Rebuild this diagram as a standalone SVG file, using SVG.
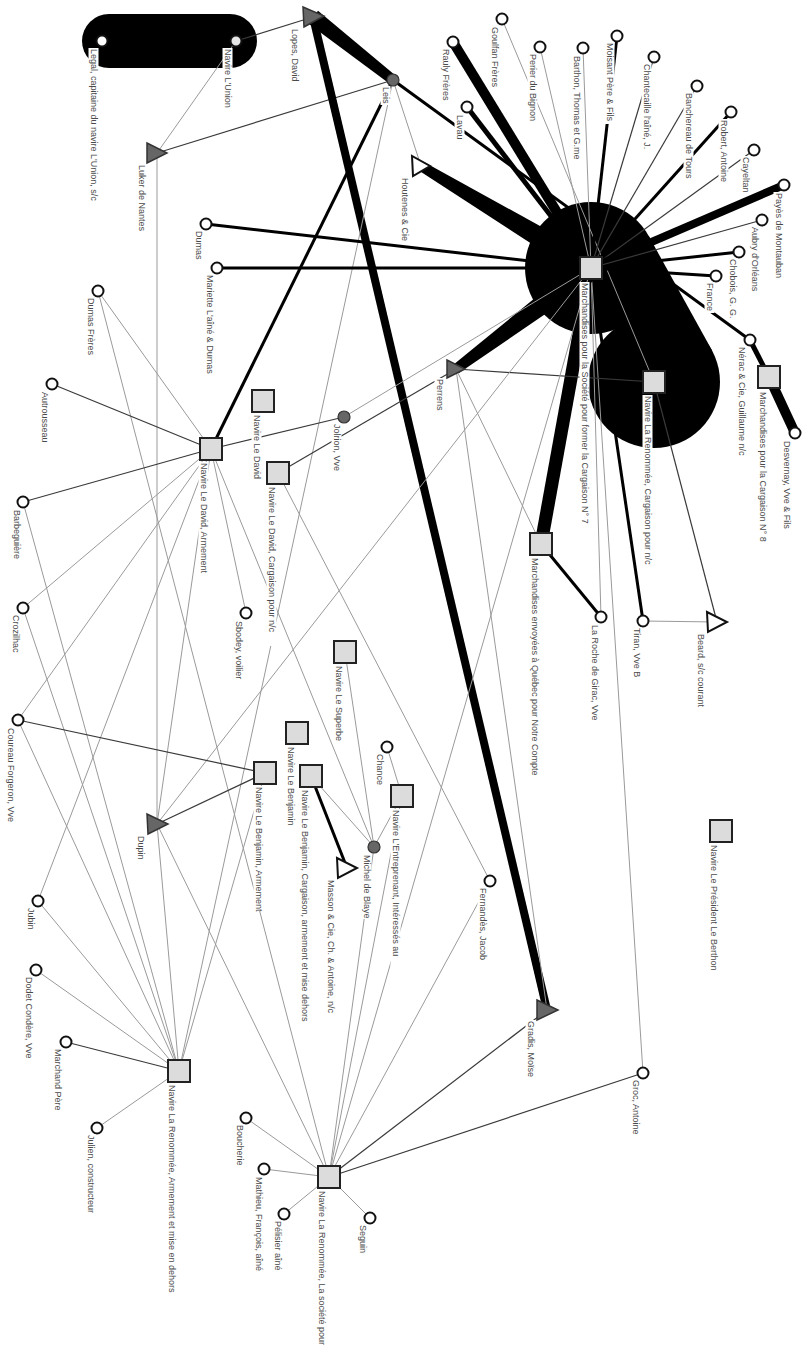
<svg xmlns="http://www.w3.org/2000/svg" width="804" height="1351" viewBox="0 0 804 1351">
<style>
.g1{stroke:#9a9a9a;stroke-width:1;fill:none}
.d1{stroke:#3a3a3a;stroke-width:1.2;fill:none}
.b3{stroke:#000;stroke-width:3;fill:none}
.b5{stroke:#000;stroke-width:5;fill:none}
.b8{stroke:#000;stroke-width:8;fill:none}
.b10{stroke:#000;stroke-width:10;fill:none}
.b13{stroke:#000;stroke-width:13;fill:none}
.blk{fill:#000}
.c{fill:#fff;stroke:#111;stroke-width:2}
.cs{fill:#e6e6e6;stroke:#111;stroke-width:2}
.cd{fill:#666;stroke:#333;stroke-width:1.2}
.sq{fill:#dcdcdc;stroke:#222;stroke-width:2}
.td{fill:#666;stroke:#333;stroke-width:1.5}
.tw{fill:#fff;stroke:#111;stroke-width:2}
.lb{fill:#fff}
.lt{font-family:"Liberation Sans",Arial,sans-serif;font-size:9px;fill:#4a4a4a}
</style>
<rect width="804" height="1351" fill="#fff"/>
<g id="connectors">
<rect class="blk" x="82" y="14" width="175" height="54" rx="27"/>
<circle class="blk" cx="591" cy="268" r="66"/>
<circle class="blk" cx="654" cy="382" r="66"/>
<polygon class="blk" points="591,268 648.8,236.1 711.8,350.1 654,382"/>
<line class="d1" x1="236" y1="41" x2="313" y2="17"/>
<line class="g1" x1="236" y1="41" x2="157" y2="153"/>
<line class="d1" x1="157" y1="153" x2="393" y2="80"/>
<line class="g1" x1="157" y1="153" x2="157" y2="824"/>
<polygon class="blk" points="318,10.7 396.1,76.1 389.9,83.9 308,23.3"/>
<line class="b8" x1="313" y1="17" x2="547" y2="1010"/>
<line class="g1" x1="393" y1="80" x2="421" y2="166"/>
<line class="b3" x1="393" y1="80" x2="211" y2="449"/>
<line class="g1" x1="393" y1="80" x2="179" y2="1071"/>
<line class="b3" x1="393" y1="80" x2="750" y2="340"/>
<line class="b10" x1="453" y1="42" x2="591" y2="268"/>
<line class="g1" x1="502" y1="19" x2="654" y2="382"/>
<line class="b5" x1="467" y1="107" x2="591" y2="268"/>
<polygon class="blk" points="423.6,161.7 597.2,257.7 584.8,278.3 418.4,170.3"/>
<line class="g1" x1="540" y1="47" x2="591" y2="268"/>
<line class="g1" x1="583" y1="48" x2="591" y2="268"/>
<line class="b3" x1="617" y1="36" x2="591" y2="268"/>
<line class="d1" x1="654" y1="57" x2="591" y2="268"/>
<line class="d1" x1="697" y1="86" x2="591" y2="268"/>
<line class="b3" x1="731" y1="112" x2="591" y2="268"/>
<line class="d1" x1="754" y1="150" x2="591" y2="268"/>
<line class="b8" x1="784" y1="185" x2="591" y2="268"/>
<line class="d1" x1="762" y1="220" x2="591" y2="268"/>
<line class="b3" x1="739" y1="252" x2="591" y2="268"/>
<line class="b3" x1="716" y1="276" x2="591" y2="268"/>
<line class="b5" x1="750" y1="340" x2="769" y2="377"/>
<line class="b10" x1="769" y1="377" x2="795" y2="433"/>
<line class="b13" x1="591" y1="268" x2="541" y2="544"/>
<line class="b3" x1="541" y1="544" x2="601" y2="617"/>
<line class="b3" x1="643" y1="621" x2="591" y2="268"/>
<line class="g1" x1="643" y1="621" x2="717" y2="622"/>
<line class="d1" x1="717" y1="622" x2="654" y2="382"/>
<line class="g1" x1="591" y1="268" x2="601" y2="617"/>
<line class="g1" x1="591" y1="268" x2="643" y2="1073"/>
<line class="d1" x1="643" y1="1073" x2="329" y2="1177"/>
<line class="d1" x1="547" y1="1010" x2="329" y2="1177"/>
<polygon class="blk" points="453,365 584,258 598,278 459,373"/>
<line class="d1" x1="456" y1="369" x2="654" y2="382"/>
<line class="d1" x1="456" y1="369" x2="278" y2="473"/>
<line class="g1" x1="456" y1="369" x2="547" y2="1010"/>
<line class="g1" x1="456" y1="369" x2="541" y2="544"/>
<line class="g1" x1="344" y1="417" x2="591" y2="268"/>
<line class="d1" x1="344" y1="417" x2="211" y2="449"/>
<line class="b3" x1="206" y1="224" x2="591" y2="268"/>
<line class="b3" x1="217" y1="268" x2="591" y2="268"/>
<line class="g1" x1="591" y1="268" x2="157" y2="824"/>
<line class="g1" x1="591" y1="268" x2="329" y2="1177"/>
<line class="g1" x1="211" y1="449" x2="98" y2="291"/>
<line class="g1" x1="98" y1="291" x2="329" y2="1177"/>
<line class="d1" x1="211" y1="449" x2="52" y2="384"/>
<line class="d1" x1="211" y1="449" x2="23" y2="502"/>
<line class="g1" x1="23" y1="502" x2="179" y2="1071"/>
<line class="g1" x1="211" y1="449" x2="23" y2="608"/>
<line class="g1" x1="23" y1="608" x2="179" y2="1071"/>
<line class="g1" x1="211" y1="449" x2="246" y2="613"/>
<line class="g1" x1="211" y1="449" x2="18" y2="720"/>
<line class="g1" x1="211" y1="449" x2="38" y2="901"/>
<line class="g1" x1="211" y1="449" x2="157" y2="824"/>
<line class="g1" x1="211" y1="449" x2="374" y2="847"/>
<line class="d1" x1="18" y1="720" x2="265" y2="773"/>
<line class="g1" x1="18" y1="720" x2="179" y2="1071"/>
<line class="d1" x1="265" y1="773" x2="157" y2="824"/>
<line class="g1" x1="157" y1="824" x2="179" y2="1071"/>
<line class="g1" x1="157" y1="824" x2="329" y2="1177"/>
<line class="g1" x1="38" y1="901" x2="179" y2="1071"/>
<line class="g1" x1="36" y1="970" x2="179" y2="1071"/>
<line class="d1" x1="66" y1="1042" x2="179" y2="1071"/>
<line class="g1" x1="97" y1="1128" x2="179" y2="1071"/>
<line class="g1" x1="265" y1="773" x2="179" y2="1071"/>
<line class="g1" x1="329" y1="1177" x2="370" y2="1218"/>
<line class="g1" x1="329" y1="1177" x2="284" y2="1214"/>
<line class="g1" x1="329" y1="1177" x2="264" y2="1169"/>
<line class="g1" x1="329" y1="1177" x2="246" y2="1118"/>
<line class="g1" x1="278" y1="473" x2="490" y2="881"/>
<line class="g1" x1="490" y1="881" x2="329" y2="1177"/>
<line class="g1" x1="374" y1="847" x2="329" y2="1177"/>
<line class="g1" x1="402" y1="796" x2="329" y2="1177"/>
<line class="g1" x1="374" y1="847" x2="402" y2="796"/>
<line class="g1" x1="374" y1="847" x2="311" y2="776"/>
<line class="g1" x1="374" y1="847" x2="345" y2="652"/>
<line class="b3" x1="311" y1="776" x2="347" y2="868"/>
<line class="g1" x1="387" y1="747" x2="402" y2="796"/>
</g>
<g id="node-legal"><circle class="c" cx="102" cy="41" r="5.5"/><rect class="lb" x="88.5" y="48" width="10" height="158"/><text class="lt" transform="translate(91,49) rotate(90)">Legal, capitaine du navire L'Union, s/c</text></g>
<g id="node-union"><circle class="cs" cx="236" cy="41" r="5.5"/><rect class="lb" x="222.5" y="48" width="10" height="62"/><text class="lt" transform="translate(225,49) rotate(90)">Navire L'Union</text></g>
<g id="node-luker"><polygon class="td" points="147,143 147,163 167,153"/><rect class="lb" x="136.5" y="164" width="10" height="68"/><text class="lt" transform="translate(139,165) rotate(90)">Luker de Nantes</text></g>
<g id="node-dumas"><circle class="c" cx="206" cy="224" r="5.5"/><rect class="lb" x="193.5" y="230" width="10" height="33"/><text class="lt" transform="translate(196,231) rotate(90)">Dumas</text></g>
<g id="node-mariette"><circle class="c" cx="217" cy="268" r="5.5"/><rect class="lb" x="204.5" y="274" width="10" height="100"/><text class="lt" transform="translate(207,275) rotate(90)">Mariette L'aîné &amp; Dumas</text></g>
<g id="node-dumasf"><circle class="c" cx="98" cy="291" r="5.5"/><rect class="lb" x="85.5" y="297" width="10" height="57"/><text class="lt" transform="translate(88,298) rotate(90)">Dumas Frères</text></g>
<g id="node-lopes"><polygon class="td" points="303,7 304,27 324,16"/><rect class="lb" x="289.5" y="28" width="10" height="56"/><text class="lt" transform="translate(292,29) rotate(90)">Lopes, David</text></g>
<g id="node-leis"><circle class="cd" cx="393" cy="80" r="6"/><rect class="lb" x="380.5" y="86" width="10" height="19"/><text class="lt" transform="translate(383,87) rotate(90)">Leis</text></g>
<g id="node-rauly"><circle class="c" cx="453" cy="42" r="5.5"/><rect class="lb" x="440.5" y="48" width="10" height="54"/><text class="lt" transform="translate(443,49) rotate(90)">Rauly Frères</text></g>
<g id="node-goulfan"><circle class="c" cx="502" cy="19" r="5.5"/><rect class="lb" x="489.5" y="26" width="10" height="64"/><text class="lt" transform="translate(492,27) rotate(90)">Goulfan Frères</text></g>
<g id="node-lavau"><circle class="c" cx="467" cy="107" r="5.5"/><rect class="lb" x="454.5" y="114" width="10" height="29"/><text class="lt" transform="translate(457,115) rotate(90)">Lavau</text></g>
<g id="node-houtenes"><polygon class="tw" points="412,156 413,176 430,166"/><rect class="lb" x="399.5" y="177" width="10" height="65"/><text class="lt" transform="translate(402,178) rotate(90)">Houtenes &amp; Cie</text></g>
<g id="node-perier"><circle class="c" cx="540" cy="47" r="5.5"/><rect class="lb" x="527.5" y="53" width="10" height="69"/><text class="lt" transform="translate(530,54) rotate(90)">Perier du Bignon</text></g>
<g id="node-barthon"><circle class="c" cx="583" cy="48" r="5.5"/><rect class="lb" x="571.5" y="55" width="10" height="106"/><text class="lt" transform="translate(574,56) rotate(90)">Barthon, Thomas et G.me</text></g>
<g id="node-moisant"><circle class="c" cx="617" cy="36" r="5.5"/><rect class="lb" x="604.5" y="42" width="10" height="82"/><text class="lt" transform="translate(607,43) rotate(90)">Moisant Père &amp; Fils</text></g>
<g id="node-chante"><circle class="c" cx="654" cy="57" r="5.5"/><rect class="lb" x="641.5" y="63" width="10" height="88"/><text class="lt" transform="translate(644,64) rotate(90)">Chantecaille l'aîné, J.</text></g>
<g id="node-banch"><circle class="c" cx="697" cy="86" r="5.5"/><rect class="lb" x="683.5" y="92" width="10" height="89"/><text class="lt" transform="translate(686,93) rotate(90)">Banchereau de Tours</text></g>
<g id="node-robert"><circle class="c" cx="731" cy="112" r="5.5"/><rect class="lb" x="718.5" y="119" width="10" height="67"/><text class="lt" transform="translate(721,120) rotate(90)">Robert, Antoine</text></g>
<g id="node-cayeltan"><circle class="c" cx="754" cy="150" r="5.5"/><rect class="lb" x="740.5" y="156" width="10" height="39"/><text class="lt" transform="translate(743,157) rotate(90)">Cayeltan</text></g>
<g id="node-payes"><circle class="c" cx="784" cy="185" r="5.5"/><rect class="lb" x="773.5" y="192" width="10" height="92"/><text class="lt" transform="translate(776,193) rotate(90)">Payès de Montauban</text></g>
<g id="node-aubry"><circle class="c" cx="762" cy="220" r="5.5"/><rect class="lb" x="749.5" y="226" width="10" height="67"/><text class="lt" transform="translate(752,227) rotate(90)">Aubry d'Orléans</text></g>
<g id="node-chobois"><circle class="c" cx="739" cy="252" r="5.5"/><rect class="lb" x="727.5" y="258" width="10" height="58"/><text class="lt" transform="translate(730,259) rotate(90)">Chobois, G. G.</text></g>
<g id="node-france"><circle class="c" cx="716" cy="276" r="5.5"/><rect class="lb" x="704.5" y="282" width="10" height="31"/><text class="lt" transform="translate(707,283) rotate(90)">France</text></g>
<g id="node-ms"><rect class="sq" x="580" y="257" width="22" height="22"/><rect class="lb" x="579.5" y="282" width="10" height="243"/><text class="lt" transform="translate(582,283) rotate(90)">Marchandises pour la Société pour former la Cargaison N° 7</text></g>
<g id="node-nerac"><circle class="c" cx="750" cy="340" r="5.5"/><rect class="lb" x="736.5" y="346" width="10" height="118"/><text class="lt" transform="translate(739,347) rotate(90)">Nérac &amp; Cie, Guillaume n/c</text></g>
<g id="node-mc8"><rect class="sq" x="758" y="366" width="22" height="22"/><rect class="lb" x="757.5" y="391" width="10" height="151"/><text class="lt" transform="translate(760,392) rotate(90)">Marchandises pour la Cargaison N° 8</text></g>
<g id="node-desvernay"><circle class="c" cx="795" cy="433" r="5.5"/><rect class="lb" x="781.5" y="440" width="10" height="86"/><text class="lt" transform="translate(784,441) rotate(90)">Desvernay, Vve &amp; Fils</text></g>
<g id="node-nrc"><rect class="sq" x="643" y="371" width="22" height="22"/><rect class="lb" x="642.5" y="395" width="10" height="172"/><text class="lt" transform="translate(645,396) rotate(90)">Navire La Renommée, Cargaison pour n/c</text></g>
<g id="node-meq"><rect class="sq" x="530" y="533" width="22" height="22"/><rect class="lb" x="529.5" y="557" width="10" height="224"/><text class="lt" transform="translate(532,558) rotate(90)">Marchandises envoyées à Québec pour Notre Compte</text></g>
<g id="node-laroche"><circle class="c" cx="601" cy="617" r="5.5"/><rect class="lb" x="589.5" y="624" width="10" height="102"/><text class="lt" transform="translate(592,625) rotate(90)">La Roche de Girac, Vve</text></g>
<g id="node-tiran"><circle class="c" cx="643" cy="621" r="5.5"/><rect class="lb" x="631.5" y="627" width="10" height="54"/><text class="lt" transform="translate(634,628) rotate(90)">Tiran, Vve B</text></g>
<g id="node-beard"><polygon class="tw" points="707,612 708,632 727,622"/><rect class="lb" x="695.5" y="633" width="10" height="80"/><text class="lt" transform="translate(698,634) rotate(90)">Beard, s/c courant</text></g>
<g id="node-berthon"><rect class="sq" x="710" y="820" width="22" height="22"/><rect class="lb" x="708.5" y="844" width="10" height="132"/><text class="lt" transform="translate(711,845) rotate(90)">Navire Le Président Le Berthon</text></g>
<g id="node-gradis"><polygon class="td" points="537,1000 537,1020 558,1010"/><rect class="lb" x="525.5" y="1020" width="10" height="58"/><text class="lt" transform="translate(528,1021) rotate(90)">Gradis, Moïse</text></g>
<g id="node-groc"><circle class="c" cx="643" cy="1073" r="5.5"/><rect class="lb" x="630.5" y="1079" width="10" height="59"/><text class="lt" transform="translate(633,1080) rotate(90)">Groc, Antoine</text></g>
<g id="node-nrs"><rect class="sq" x="318" y="1166" width="22" height="22"/><rect class="lb" x="316.5" y="1190" width="10" height="152"/><text class="lt" transform="translate(319,1191) rotate(90)">Navire La Renommée, La société pour</text></g>
<g id="node-seguin"><circle class="c" cx="370" cy="1218" r="5.5"/><rect class="lb" x="357.5" y="1224" width="10" height="28"/><text class="lt" transform="translate(360,1225) rotate(90)">Seguin</text></g>
<g id="node-pelisier"><circle class="c" cx="284" cy="1214" r="5.5"/><rect class="lb" x="272.5" y="1220" width="10" height="54"/><text class="lt" transform="translate(275,1221) rotate(90)">Pélisier aîné</text></g>
<g id="node-mathieu"><circle class="c" cx="264" cy="1169" r="5.5"/><rect class="lb" x="253.5" y="1176" width="10" height="97"/><text class="lt" transform="translate(256,1177) rotate(90)">Mathieu, François, aîné</text></g>
<g id="node-boucherie"><circle class="c" cx="246" cy="1118" r="5.5"/><rect class="lb" x="234.5" y="1124" width="10" height="44"/><text class="lt" transform="translate(237,1125) rotate(90)">Boucherie</text></g>
<g id="node-nra"><rect class="sq" x="168" y="1060" width="22" height="22"/><rect class="lb" x="166.5" y="1084" width="10" height="212"/><text class="lt" transform="translate(169,1085) rotate(90)">Navire La Renommée, Armement et mise en dehors</text></g>
<g id="node-marchand"><circle class="c" cx="66" cy="1042" r="5.5"/><rect class="lb" x="52.5" y="1048" width="10" height="66"/><text class="lt" transform="translate(55,1049) rotate(90)">Marchand Père</text></g>
<g id="node-julien"><circle class="c" cx="97" cy="1128" r="5.5"/><rect class="lb" x="85.5" y="1134" width="10" height="82"/><text class="lt" transform="translate(88,1135) rotate(90)">Julien, constructeur</text></g>
<g id="node-coureau"><circle class="c" cx="18" cy="720" r="5.5"/><rect class="lb" x="5.5" y="727" width="10" height="96"/><text class="lt" transform="translate(8,728) rotate(90)">Coureau Forgeron, Vve</text></g>
<g id="node-dupin"><polygon class="td" points="147,814 148,834 168,824"/><rect class="lb" x="135.5" y="835" width="10" height="26"/><text class="lt" transform="translate(138,836) rotate(90)">Dupin</text></g>
<g id="node-nba"><rect class="sq" x="254" y="762" width="22" height="22"/><rect class="lb" x="253.5" y="786" width="10" height="125"/><text class="lt" transform="translate(256,787) rotate(90)">Navire Le Benjamin, Armement</text></g>
<g id="node-jubin"><circle class="c" cx="38" cy="901" r="5.5"/><rect class="lb" x="25.5" y="907" width="10" height="24"/><text class="lt" transform="translate(28,908) rotate(90)">Jubin</text></g>
<g id="node-dodet"><circle class="c" cx="36" cy="970" r="5.5"/><rect class="lb" x="23.5" y="976" width="10" height="87"/><text class="lt" transform="translate(26,977) rotate(90)">Dodet Condère, Vve</text></g>
<g id="node-autrousseau"><circle class="c" cx="52" cy="384" r="5.5"/><rect class="lb" x="39.5" y="391" width="10" height="55"/><text class="lt" transform="translate(42,392) rotate(90)">Autrousseau</text></g>
<g id="node-nda"><rect class="sq" x="200" y="438" width="22" height="22"/><rect class="lb" x="198.5" y="462" width="10" height="114"/><text class="lt" transform="translate(201,463) rotate(90)">Navire Le David, Armement</text></g>
<g id="node-barbeg"><circle class="c" cx="23" cy="502" r="5.5"/><rect class="lb" x="11.5" y="509" width="10" height="52"/><text class="lt" transform="translate(14,510) rotate(90)">Barbeguière</text></g>
<g id="node-crozilhac"><circle class="c" cx="23" cy="608" r="5.5"/><rect class="lb" x="10.5" y="614" width="10" height="42"/><text class="lt" transform="translate(13,615) rotate(90)">Crozilhac</text></g>
<g id="node-sbodey"><circle class="c" cx="246" cy="613" r="5.5"/><rect class="lb" x="233.5" y="620" width="10" height="62"/><text class="lt" transform="translate(236,621) rotate(90)">Sbodey, voilier</text></g>
<g id="node-nd"><rect class="sq" x="252" y="390" width="22" height="22"/><rect class="lb" x="251.5" y="414" width="10" height="69"/><text class="lt" transform="translate(254,415) rotate(90)">Navire Le David</text></g>
<g id="node-ndc"><rect class="sq" x="267" y="462" width="22" height="22"/><rect class="lb" x="266.5" y="486" width="10" height="160"/><text class="lt" transform="translate(269,487) rotate(90)">Navire Le David, Cargaison pour n/c</text></g>
<g id="node-jolrion"><circle class="cd" cx="344" cy="417" r="6"/><rect class="lb" x="331.5" y="423" width="10" height="53"/><text class="lt" transform="translate(334,424) rotate(90)">Jolrion, Vve</text></g>
<g id="node-perrens"><polygon class="td" points="447,360 447,378 465,369"/><rect class="lb" x="434.5" y="378" width="10" height="33"/><text class="lt" transform="translate(437,379) rotate(90)">Perrens</text></g>
<g id="node-superbe"><rect class="sq" x="334" y="641" width="22" height="22"/><rect class="lb" x="333.5" y="665" width="10" height="76"/><text class="lt" transform="translate(336,666) rotate(90)">Navire Le Superbe</text></g>
<g id="node-nb"><rect class="sq" x="286" y="722" width="22" height="22"/><rect class="lb" x="285.5" y="746" width="10" height="80"/><text class="lt" transform="translate(288,747) rotate(90)">Navire Le Benjamin</text></g>
<g id="node-nbc"><rect class="sq" x="300" y="765" width="22" height="22"/><rect class="lb" x="299.5" y="789" width="10" height="232"/><text class="lt" transform="translate(302,790) rotate(90)">Navire Le Benjamin, Cargaison, armement et mise dehors</text></g>
<g id="node-chance"><circle class="c" cx="387" cy="747" r="5.5"/><rect class="lb" x="374.5" y="753" width="10" height="35"/><text class="lt" transform="translate(377,754) rotate(90)">Chance</text></g>
<g id="node-nle"><rect class="sq" x="391" y="785" width="22" height="22"/><rect class="lb" x="390.5" y="809" width="10" height="157"/><text class="lt" transform="translate(393,810) rotate(90)">Navire L'Entreprenant, Intéressés au</text></g>
<g id="node-mdb"><circle class="cd" cx="374" cy="847" r="6"/><rect class="lb" x="361.5" y="854" width="10" height="65"/><text class="lt" transform="translate(364,855) rotate(90)">Michel de Blaye</text></g>
<g id="node-masson"><polygon class="tw" points="337,858 338,878 357,868"/><rect class="lb" x="325.5" y="879" width="10" height="130"/><text class="lt" transform="translate(328,880) rotate(90)">Masson &amp; Cie, Ch. &amp; Antoine, n/c</text></g>
<g id="node-fernandes"><circle class="c" cx="490" cy="881" r="5.5"/><rect class="lb" x="477.5" y="887" width="10" height="77"/><text class="lt" transform="translate(480,888) rotate(90)">Fernandès, Jacob</text></g>
</svg>
